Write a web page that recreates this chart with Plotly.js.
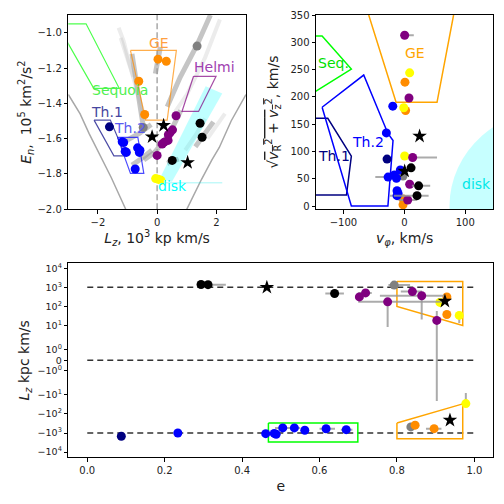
<!DOCTYPE html>
<html>
<head>
<meta charset="utf-8">
<script src="https://cdn.plot.ly/plotly-3.0.1.min.js"></script>
<style>body{margin:0;} #myDiv{width:504px;height:504px;}</style>
</head>
<body>
<div id="myDiv"></div>
<script>
// ---------- top left: Lz (10^3 kpc km/s) vs En (10^5 km^2/s^2) ----------
var tlGroup = ["gray","gray","orange","orange","orange","orange","navy",
    "blue","blue","blue","blue","blue","blue","blue","blue",
    "purple","purple","purple","purple","purple","purple","purple","purple",
    "black","black","black","star","star","star","yellow","yellow","yellow"];
var tlLz = [1.35,-0.47, 0.03,0.31,-0.62,-0.42, -1.61,
    -1.18,-1.13,-1.08,-1.04,-0.66,-0.58,-0.60,-0.74,
    0.64,0.52,0.44,0.38,0.37,0.24,0.17,0.0,
    1.45,1.52,0.51, 0.22,-0.17,1.03, -0.05,0.04,0.13];
var tlEn = [-1.076,-1.537, -1.150,-1.162,-1.275,-1.463, -1.533,
    -1.618,-1.622,-1.672,-1.678,-1.652,-1.665,-1.678,-1.772,
    -1.470,-1.550,-1.565,-1.578,-1.610,-1.620,-1.630,-1.695,
    -1.513,-1.592,-1.723, -1.525,-1.590,-1.735, -1.826,-1.830,-1.836];

// orbit streaks (grey tracks)
var streakLz = [
    [1.80,1.34,0.78,0.45,0.34],
    [0.80,0.50,0.20,-0.10,-0.45],
    [-0.85,-0.70,-0.57,-0.45],
    [0.11,0.03,-0.06],
    [-0.20,-0.60,-1.15],
    [-0.18,-0.50,-0.85],
    [1.90,1.60,1.29],
    [0.73,0.34]
];
var streakEn = [
    [-0.90,-1.072,-1.251,-1.373,-1.42],
    [-1.44,-1.545,-1.62,-1.68,-1.72],
    [-1.12,-1.28,-1.46,-1.55],
    [-1.081,-1.15,-1.232],
    [-1.52,-1.57,-1.62],
    [-1.665,-1.71,-1.75],
    [-1.505,-1.58,-1.646],
    [-1.715,-1.74]
];
var faintLz = [
    [2.12,1.62,1.01,0.60],
    [1.62,1.30,0.95],
    [-1.30,-1.13,-0.96,-0.80],
    [-1.23,-0.90,-0.62,-0.39],
    [2.29,2.00,1.70]
];
var faintEn = [
    [-0.925,-1.141,-1.349,-1.45],
    [-1.486,-1.58,-1.665],
    [-0.972,-1.047,-1.16,-1.25],
    [-1.03,-1.20,-1.364,-1.495],
    [-1.458,-1.53,-1.60]
];

// energy envelope
var envLeftLz = [-3.0,-2.6,-2.3,-1.9,-1.55,-1.25,-1.06];
var envLeftEn = [-1.35,-1.46,-1.57,-1.70,-1.82,-1.93,-2.0];
var envRightLz = [1.0,1.2,1.5,1.85,2.1,2.5,3.0];
var envRightEn = [-2.0,-1.93,-1.83,-1.72,-1.65,-1.50,-1.35];

// selection regions, top left
var seqLz = [-3.3,-2.40,-1.28,-2.14,-3.3];
var seqEn = [-0.95,-0.95,-1.315,-1.315,-0.975];
var geLz = [-0.90,0.65,0.34,-0.39,-0.90];
var geEn = [-1.10,-1.10,-1.495,-1.495,-1.10];
var helmiLz = [1.23,1.99,1.40,0.84,1.23];
var helmiEn = [-1.247,-1.247,-1.446,-1.446,-1.247];
var th1Lz = [-2.13,-1.58,-1.07,-1.46,-2.13];
var th1En = [-1.495,-1.495,-1.697,-1.697,-1.495];
var th2Lz = [-1.34,-0.65,-0.45,-0.90,-1.34];
var th2En = [-1.593,-1.593,-1.797,-1.797,-1.593];
var diskLz = [1.64,2.20,0.50,0.09,1.64];
var diskEn = [-1.303,-1.345,-1.844,-1.825,-1.303];
var diskLineLz = [0.10,2.20];
var diskLineEn = [-1.85,-1.85];

// ---------- top right: v_phi vs sqrt(vR^2+vz^2) ----------
var trGroup = ["purple","yellow","orange","purple","blue","yellow","orange","blue","star","yellow",
    "purple","navy","black","blue","star","gray","blue","blue","blue","purple",
    "black","blue","blue","blue","black","purple","orange","orange"];
var trVphi = [0.5,8.7,1,7.6,-19,-1,2,-29.5,25,0.5,
    13.6,-28.4,11,-6.6,0.5,-2.2,-26.7,-16.4,-13,8.7,
    23.4,-12,-10.3,-12,20.8,5.5,-2.2,-2.2];
var trVperp = [313,244,227,198,183,180,175,134,128,91.6,
    89,86,70,66,64,55,53,57,51,40,
    37,28,23,19,19,11,13,2.4];
var trErrLo = [0,0,0,0,0,0,0,0,0,0, 0,0,0,0,0,0,21,0,0,0, 11,0,0,12,38,15,0,0];
var trErrHi = [15,0,0,0,0,0,0,0,0,0, 40,0,0,0,0,0,7,0,0,0, 19,0,0,12,19,15,0,0];

var trGeV = [-58.5,-13.6,53.6,80.8];
var trGeP = [350,190,190,350];
var trSeqV = [-150,-135,-87,-150];
var trSeqP = [311.5,311.5,251,207];
var trTh1V = [-150,-125.7,-87,-95,-150];
var trTh1P = [160.7,160.7,91.6,20,20];
var trTh2V = [-135,-66.7,-27,-18.6,-27,-87,-135];
var trTh2P = [181,240,133,120,0,0,181];
var diskCenter = 256, diskRadius = 182;

// ---------- bottom: eccentricity vs Lz (symlog) ----------
var bGroup = ["black","black","star","gray","black","purple","purple","purple","purple","purple",
    "purple","orange","star","yellow","orange","yellow","yellow","star","gray","orange",
    "orange","blue","navy","blue","blue","blue","blue","blue","blue","blue","blue"];
var bEcc = [0.294,0.312,0.464,0.793,0.639,0.719,0.703,0.776,0.840,0.864,
    0.903,0.929,0.924,0.911,0.929,0.961,0.978,0.937,0.836,0.847,
    0.896,0.234,0.088,0.461,0.488,0.483,0.505,0.535,0.562,0.617,0.669];
var bLz = [1415,1390,1000,1320,480,515,317,175,600,362,
    18.7,317,190,163,38,34,-29,-214,-480,-390,
    -590,-1000,-1480,-1080,-1160,-1050,-540,-540,-720,-600,-670];
var bEccLo = [0.294,0.312,0.464,0.778,0.615,0.70,0.703,0.70,0.81,0.756,
    0.903,0.929,0.924,0.911,0.929,0.961,0.978,0.937,0.836,0.847,
    0.875,0.225,0.088,0.461,0.488,0.483,0.485,0.535,0.562,0.60,0.655];
var bEccHi = [0.294,0.358,0.464,0.834,0.663,0.735,0.703,0.92,0.865,0.924,
    0.903,0.929,0.924,0.911,0.929,0.961,0.978,0.937,0.836,0.847,
    0.915,0.245,0.088,0.461,0.488,0.483,0.55,0.535,0.562,0.64,0.685];
var bLzLo = [1415,1390,1000,1320,480,330,317,8.5,600,21,
    -21,317,190,163,38,13.5,-43,-214,-480,-390,
    -590,-1000,-1480,-1080,-1160,-1050,-540,-540,-720,-600,-670];
var bLzHi = [1415,1390,1000,1320,480,515,317,175,600,362,
    58,317,190,163,38,54,-8,-214,-480,-390,
    -590,-1000,-1480,-1080,-1160,-1050,-540,-540,-720,-600,-670];

var refLz = [1000,0,-1000];
var refEcc = [0,1];
var bGeHighE = [0.8,0.97,0.97,0.8,0.8];
var bGeHighLz = [2000,2000,10,100,2000];
var bGeLowE = [0.8,0.97,0.97,0.8,0.8];
var bGeLowLz = [-300,-30,-2000,-2000,-300];
var bSeqE = [0.468,0.699,0.699,0.468,0.468];
var bSeqLz = [-296,-296,-2960,-2960,-296];

var symTicks = [1e4,1e3,1e2,10,1,0,-1,-10,-100,-1e3,-1e4];
var symTickText = ["10<sup>4</sup>","10<sup>3</sup>","10<sup>2</sup>","10<sup>1</sup>","10<sup>0</sup>","0",
    "\u221210<sup>0</sup>","\u221210<sup>1</sup>","\u221210<sup>2</sup>","\u221210<sup>3</sup>","\u221210<sup>4</sup>"];

// matplotlib-like symlog, linthresh 2, linscale 1
function symlog(v) {
    var lt = 2, adj = 1 / (1 - 0.1), a = Math.abs(v);
    if (a <= lt) return v / lt * adj;
    return Math.sign(v) * (adj + Math.log10(a / lt));
}

var colors = {orange:"#ff8c00", yellow:"#ffff00", purple:"#800080", blue:"#0000ff",
    navy:"#000080", black:"#000000", gray:"#808080", star:"#000000"};
var order = ["gray","orange","yellow","purple","blue","navy","black","star"];
var errColor = "rgba(150,150,150,0.8)";

function pick(arr, grp, g) {
    return arr.filter(function (v, i) { return grp[i] === g; });
}
function marker(g) {
    return g === "star"
        ? {color: colors[g], size: 11, symbol: "star"}
        : {color: colors[g], size: 9, symbol: "circle"};
}
function line(x, y, color, w, xa, ya, extra) {
    var t = {x: x, y: y, mode: "lines", line: {color: color, width: w},
        xaxis: xa, yaxis: ya, hoverinfo: "skip", showlegend: false};
    for (var k in extra) t[k] = extra[k];
    return t;
}

var data = [];

// top left
streakLz.forEach(function (xs, i) {
    data.push(line(xs, streakEn[i], "rgba(150,150,150,0.55)", 5, "x", "y"));
});
faintLz.forEach(function (xs, i) {
    data.push(line(xs, faintEn[i], "rgba(170,170,170,0.22)", 4, "x", "y"));
});
data.push(line(envLeftLz, envLeftEn, "#a8a8a8", 1.5, "x", "y"));
data.push(line(envRightLz, envRightEn, "#a8a8a8", 1.5, "x", "y"));
data.push(line(diskLz, diskEn, "rgba(0,0,0,0)", 0, "x", "y", {fill: "toself", fillcolor: "rgba(0,255,255,0.25)"}));
data.push(line(diskLineLz, diskLineEn, "rgba(0,230,230,0.35)", 1, "x", "y"));
data.push(line(seqLz, seqEn, "rgba(0,255,0,0.7)", 1.2, "x", "y"));
data.push(line(geLz, geEn, "rgba(255,140,0,0.7)", 1.2, "x", "y"));
data.push(line(helmiLz, helmiEn, "rgba(128,0,128,0.7)", 1.2, "x", "y"));
data.push(line(th1Lz, th1En, "rgba(0,0,128,0.7)", 1.2, "x", "y"));
data.push(line(th2Lz, th2En, "rgba(0,0,255,0.7)", 1.2, "x", "y"));
order.forEach(function (g) {
    data.push({x: pick(tlLz, tlGroup, g), y: pick(tlEn, tlGroup, g), mode: "markers",
        marker: marker(g), xaxis: "x", yaxis: "y", showlegend: false});
});

// top right
data.push(line(trGeV, trGeP, "#ffa500", 1.5, "x2", "y2"));
data.push(line(trSeqV, trSeqP, "#00ff00", 1.5, "x2", "y2"));
data.push(line(trTh1V, trTh1P, "#000080", 1.5, "x2", "y2"));
data.push(line(trTh2V, trTh2P, "#0000ff", 1.5, "x2", "y2"));
order.forEach(function (g) {
    data.push({x: pick(trVphi, trGroup, g), y: pick(trVperp, trGroup, g), mode: "markers",
        marker: marker(g), xaxis: "x2", yaxis: "y2", showlegend: false,
        error_x: {type: "data", symmetric: false, array: pick(trErrHi, trGroup, g),
            arrayminus: pick(trErrLo, trGroup, g), color: errColor, thickness: 2, width: 0}});
});

// bottom
refLz.forEach(function (v) {
    data.push(line(refEcc, [symlog(v), symlog(v)], "#333333", 1.5, "x3", "y3", {line: {color: "#333333", width: 1.5, dash: "6px,4px"}}));
});
data.push(line(bGeHighE, bGeHighLz.map(symlog), "#ffa500", 1.5, "x3", "y3"));
data.push(line(bGeLowE, bGeLowLz.map(symlog), "#ffa500", 1.5, "x3", "y3"));
data.push(line(bSeqE, bSeqLz.map(symlog), "#00ff00", 1.5, "x3", "y3"));
order.forEach(function (g) {
    var e = pick(bEcc, bGroup, g), lz = pick(bLz, bGroup, g);
    var eLo = pick(bEccLo, bGroup, g), eHi = pick(bEccHi, bGroup, g);
    var zLo = pick(bLzLo, bGroup, g), zHi = pick(bLzHi, bGroup, g);
    data.push({x: e, y: lz.map(symlog), mode: "markers", marker: marker(g),
        xaxis: "x3", yaxis: "y3", showlegend: false,
        error_x: {type: "data", symmetric: false, color: errColor, thickness: 2, width: 0,
            array: e.map(function (v, i) { return eHi[i] - v; }),
            arrayminus: e.map(function (v, i) { return v - eLo[i]; })},
        error_y: {type: "data", symmetric: false, color: errColor, thickness: 2, width: 0,
            array: lz.map(function (v, i) { return symlog(zHi[i]) - symlog(v); }),
            arrayminus: lz.map(function (v, i) { return symlog(v) - symlog(zLo[i]); })}});
});

var axisBase = {showline: true, mirror: true, linecolor: "black", linewidth: 1, ticks: "outside",
    ticklen: 3.5, tickwidth: 1, tickcolor: "black", showgrid: false, zeroline: false,
    tickfont: {size: 10, color: "#222"}};
function ax(extra) {
    var a = JSON.parse(JSON.stringify(axisBase));
    for (var k in extra) a[k] = extra[k];
    return a;
}
function label(text, x, y, color, xr, yr) {
    return {text: text, x: x, y: y, xref: xr, yref: yr, showarrow: false,
        font: {size: 14, color: color}, xanchor: "center", yanchor: "middle"};
}

var layout = {
    width: 504, height: 504,
    margin: {l: 0, r: 0, t: 0, b: 0},
    paper_bgcolor: "white", plot_bgcolor: "white",
    font: {family: "DejaVu Sans", color: "#222"},
    showlegend: false,
    xaxis: ax({domain: [0.1355, 0.488], range: [-3, 3], tickvals: [-2, 0, 2], anchor: "y",
        title: {text: "<i>L<sub>z</sub></i>, 10<sup>3</sup> kp km/s", font: {size: 14}, standoff: 6}}),
    yaxis: ax({domain: [0.5847, 0.9702], range: [-2.0, -0.9], dtick: 0.2, tick0: -2, tickformat: ".1f", anchor: "x",
        title: {text: "<i>E<sub>n</sub></i>,  10<sup>5</sup> km<sup>2</sup>/s<sup>2</sup>", font: {size: 14}, standoff: 2}}),
    xaxis2: ax({domain: [0.627, 0.9788], range: [-145, 146], tickvals: [-100, 0, 100], anchor: "y2",
        title: {text: "<i>v<sub>\u03c6</sub></i>, km/s", font: {size: 14}, standoff: 6}}),
    yaxis2: ax({domain: [0.5847, 0.9702], range: [-6, 350], dtick: 50, anchor: "x2",
        title: {text: "\u221a<span style=\"text-decoration:overline\"><i>v</i><sub>R</sub><sup>2</sup> + <i>v</i><sub>z</sub><sup>2</sup></span>, km/s", font: {size: 14}, standoff: 8}}),
    xaxis3: ax({domain: [0.1355, 0.9788], range: [-0.049, 1.049], dtick: 0.2, tick0: 0, tickformat: ".1f", anchor: "y3",
        title: {text: "e", font: {size: 14}, standoff: 6}}),
    yaxis3: ax({domain: [0.0927, 0.4776], range: [-5.08, 5.07], tickvals: symTicks.map(symlog), ticktext: symTickText, anchor: "x3",
        tickfont: {size: 9.5, color: "#222"},
        title: {text: "<i>L<sub>z</sub></i> kpc km/s", font: {size: 14}, standoff: 4}}),
    shapes: [
        {type: "line", xref: "x", yref: "y", x0: 0, x1: 0, y0: -2.0, y1: -0.9,
            line: {color: "#a8a8a8", width: 1.5, dash: "6px,3px"}, layer: "below"},
        {type: "circle", xref: "x2", yref: "y2", x0: diskCenter - diskRadius, x1: diskCenter + diskRadius,
            y0: -diskRadius, y1: diskRadius, fillcolor: "rgba(0,255,255,0.22)", line: {width: 0}, layer: "below"}
    ],
    annotations: [
        label("GE", 0.08, -1.059, "#ffa040", "x", "y"),
        label("Helmi", 1.93, -1.194, "#a040b0", "x", "y"),
        label("Sequoia", -1.26, -1.322, "#50f050", "x", "y"),
        label("Th.1", -1.70, -1.449, "#4646a0", "x", "y"),
        label("Th.2", -0.90, -1.539, "#5a5af0", "x", "y"),
        label("disk", 0.52, -1.868, "#00ffff", "x", "y"),
        label("GE", 18, 280, "#ffa500", "x2", "y2"),
        label("Seq.", -116, 261.5, "#00e000", "x2", "y2"),
        label("Th.1", -116, 91.6, "#000080", "x2", "y2"),
        label("Th.2", -60, 118, "#0000ff", "x2", "y2"),
        label("disk", 119, 40, "#00e8e8", "x2", "y2")
    ]
};

Plotly.newPlot("myDiv", data, layout, {staticPlot: true});
</script>
</body>
</html>
